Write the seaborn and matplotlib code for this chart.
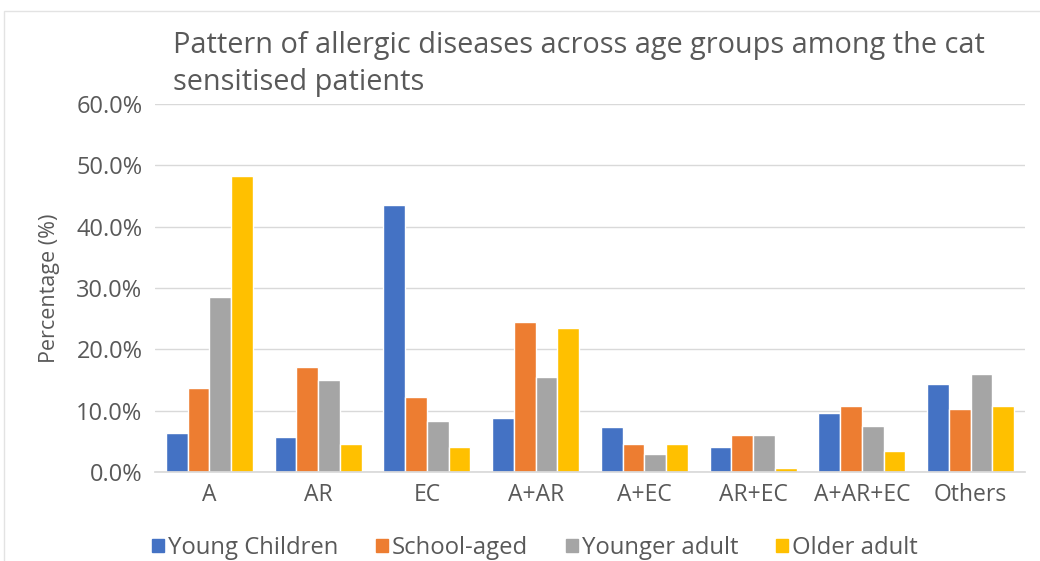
import matplotlib
matplotlib.use("Agg")
import matplotlib.pyplot as plt
import matplotlib.patches as mpatches
from matplotlib.ticker import FuncFormatter, MultipleLocator
import seaborn as sns
import pandas as pd

categories = ["A", "AR", "EC", "A+AR", "A+EC", "AR+EC", "A+AR+EC", "Others"]
groups = ["Young Children", "School-aged", "Younger adult", "Older adult"]
young_children = [6.4, 5.7, 43.5, 8.8, 7.3, 4.0, 9.7, 14.4]
school_aged = [13.7, 17.1, 12.3, 24.5, 4.6, 6.1, 10.8, 10.3]
younger_adult = [28.5, 15.0, 8.3, 15.5, 2.9, 6.0, 7.5, 15.9]
older_adult = [48.3, 4.6, 4.0, 23.4, 4.6, 0.7, 3.4, 10.7]
colors = ["#4472C4", "#ED7D31", "#A5A5A5", "#FFC000"]

series = [young_children, school_aged, younger_adult, older_adult]
rows = []
for g, vals in zip(groups, series):
    for c, v in zip(categories, vals):
        rows.append({"Category": c, "Group": g, "Percentage": v})
df = pd.DataFrame(rows)

sns.set_theme(style="white")
plt.rcParams["font.family"] = ["Open Sans", "DejaVu Sans"]
text_color = "#595959"

W, H = 1040, 561
fig = plt.figure(figsize=(W / 100, H / 100), dpi=100)
fig.patch.set_facecolor("white")

# light chart-area border
fig.add_artist(mpatches.Rectangle((4 / W, -0.1), 1.2, 1 - 11 / H + 0.1,
                                  transform=fig.transFigure, fill=False,
                                  edgecolor="#E3E3E3", linewidth=1))

ax = fig.add_axes([155 / W, (H - 472) / H, 870 / W, (472 - 104) / H])
sns.barplot(data=df, x="Category", y="Percentage", hue="Group",
            palette=colors, width=0.8, ax=ax, legend=False,
            saturation=1, errorbar=None)

ax.set_ylim(0, 60)
ax.yaxis.set_major_locator(MultipleLocator(10))
ax.yaxis.set_major_formatter(FuncFormatter(lambda v, p: f"{v:.1f}%"))
ax.grid(axis="y", color="#D9D9D9", linewidth=1)
ax.set_axisbelow(True)
for s in ["top", "right", "left"]:
    ax.spines[s].set_visible(False)
ax.spines["bottom"].set_color("#D9D9D9")
ax.tick_params(axis="both", length=0, colors=text_color)
ax.tick_params(axis="x", pad=8, labelsize=16.5)
ax.tick_params(axis="y", pad=9, labelsize=17)
ax.set_xlabel("")
ax.set_ylabel("")
fig.text(50 / W, 1 - 288 / H, "Percentage (%)", rotation=90, color=text_color,
         fontsize=15.5, ha="center", va="center")

fig.text(173 / W, 1 - 64 / H,
         "Pattern of allergic diseases across age groups among the cat\nsensitised patients",
         color=text_color, fontsize=20.8, ha="left", va="center", linespacing=1.38)

handles = [mpatches.Patch(color=c, label=g) for c, g in zip(colors, groups)]
fig.legend(handles=handles, loc="center", bbox_to_anchor=(535 / W, 1 - 548 / H),
           ncol=4, frameon=False, fontsize=17.2, handlelength=0.5, handleheight=0.5,
           handletextpad=0.15, columnspacing=1.6, labelcolor=text_color,
           borderpad=0, borderaxespad=0)

fig.savefig("out.png", dpi=100)
